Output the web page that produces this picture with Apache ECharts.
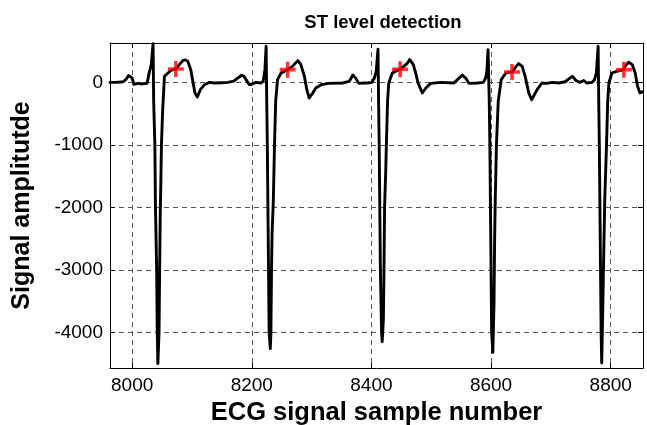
<!DOCTYPE html>
<html>
<head>
<meta charset="utf-8">
<title>ST level detection</title>
<script src="https://cdn.jsdelivr.net/npm/echarts@6/dist/echarts.min.js"></script>
<style>
  html, body { margin: 0; padding: 0; background: #fff; }
  #chart { width: 647px; height: 425px; }
</style>
</head>
<body>
<div id="chart"></div>
<script>
// ECG trace: sample numbers and amplitudes
const samples = [
  7963, 7972, 7982, 7986, 7990, 7994, 7997, 8000, 8003, 8006, 8010, 8015, 8020, 8025, 8029, 8032, 8035,
  8036, 8038, 8039, 8041, 8042, 8043, 8045, 8046, 8047, 8048, 8049, 8051, 8054, 8060, 8065, 8073, 8079,
  8085, 8089, 8093, 8098, 8101, 8105, 8109, 8114, 8121, 8129, 8138, 8150, 8160, 8170, 8175, 8179, 8183,
  8187, 8192, 8196, 8200, 8207, 8215, 8219, 8222, 8224,
  8225, 8226, 8227, 8228, 8229, 8231, 8232, 8233, 8234, 8236, 8238, 8240, 8243, 8249, 8254, 8260, 8268,
  8277, 8282, 8288, 8292, 8296, 8302, 8307, 8316, 8329, 8352, 8363, 8369, 8374, 8379, 8388, 8393, 8401,
  8405, 8408, 8411,
  8412, 8413, 8414, 8415, 8417, 8418, 8420, 8421, 8422, 8424, 8425, 8427, 8429, 8435, 8440, 8448, 8454,
  8460, 8464, 8470, 8474, 8478, 8485, 8491, 8499, 8516, 8538, 8546, 8552, 8558, 8563, 8577, 8587, 8591,
  8593, 8595,
  8597, 8598, 8599, 8600, 8601, 8603, 8605, 8606, 8607, 8609, 8612, 8617, 8624, 8629, 8635, 8642, 8646,
  8652, 8657, 8663, 8668, 8677, 8685, 8693, 8702, 8713, 8724, 8731, 8736, 8742, 8748, 8755, 8760, 8769,
  8773, 8776, 8779,
  8780, 8781, 8782, 8783, 8784, 8785, 8787, 8788, 8790, 8793, 8795, 8797, 8802, 8810, 8822, 8824, 8830,
  8836, 8841, 8845, 8849, 8853
];
const amplitude = [
  0, 0, 5, 15, 50, 110, 115, 70, -30, -35, -15, -25, -20, -15, 176, 284, 620,
  -300, -1000, -2000, -3000, -4000, -4500, -4000, -3000, -2100, -1600, -1000, -450, 96, 150, 192, 215, 284,
  353, 360, 337, 204, 43, -170, -234, -117, -37, 0, -10, -5, 0, 20, 60, 85, 115,
  96, 20, -35, -30, 0, -10, 16, 204, 577,
  -300, -1000, -2000, -3000, -4000, -4260, -4000, -3000, -2400, -1900, -1000, -300, 43, 150, 176, 204, 256,
  348, 284, 96, -117, -250, -170, -90, -37, -16, -10, 16, 118, 64, -16, -10, -10, 0,
  70, 176, 530,
  -300, -1000, -2000, -3000, -4000, -4150, -3800, -3000, -2000, -1400, -1000, -300, -10, 150, 176, 210, 256,
  305, 364, 284, 150, -10, -170, -90, -16, 0, -10, 64, 118, 64, -16, -10, 0, 70,
  176, 524,
  -300, -1000, -2000, -3000, -4000, -4320, -3500, -2500, -1880, -1000, -300, 43, 142, 160, 166, 256, 300,
  256, 96, -170, -277, -117, -10, -16, 0, -10, 10, 64, 96, 30, 0, 30, -10, 0,
  43, 150, 577,
  -300, -1000, -2000, -3000, -4000, -4490, -3500, -2950, -1900, -1000, -300, -10, 150, 176, 203, 256, 321,
  284, 150, -64, -170, -150
];

// Detected ST levels (one per beat)
const stSamples = [8073, 8260, 8448, 8635, 8822];
const stLevels = [215, 204, 210, 166, 203];

// Axis tick labels
const xTicks = [8000, 8200, 8400, 8600, 8800];
const yTicks = [-4000, -3000, -2000, -1000, 0];

const xRange = [7963, 8854];
const yRange = [-4570, 630];

const FONT = '"Liberation Sans", Arial, Helvetica, sans-serif';

const chart = echarts.init(document.getElementById('chart'), null, { renderer: 'canvas' });

const gridLine = { show: true, showMinLine: false, showMaxLine: false,
  lineStyle: { color: '#555', width: 1, type: [5, 4] } };

const frameAxis = {
  axisLine: { show: true, onZero: false, lineStyle: { color: '#000', width: 1 } },
  axisTick: { show: true, inside: true, length: 5, lineStyle: { color: '#000' } },
  axisLabel: { show: false },
  splitLine: { show: false }
};

chart.setOption({
  animation: false,
  backgroundColor: '#fff',
  title: {
    text: 'ST level detection',
    left: 378, top: 8, textAlign: 'center',
    textStyle: { fontFamily: FONT, fontSize: 18.5, fontWeight: 'bold', color: '#000' }
  },
  grid: { left: 110, right: 4, top: 43, bottom: 57, containLabel: false, outerBoundsMode: 'none' },
  xAxis: [{
    type: 'value', min: xRange[0], max: xRange[1], position: 'bottom',
    axisLine: { show: true, onZero: false, lineStyle: { color: '#000', width: 1 } },
    axisTick: { show: true, inside: true, length: 5, lineStyle: { color: '#000' } },
    axisLabel: {
      color: '#000', fontFamily: FONT, fontSize: 19, margin: 8,
      showMinLabel: false, showMaxLabel: false,
      formatter: v => (xTicks.indexOf(v) >= 0 ? String(v) : '')
    },
    splitLine: gridLine,
    name: 'ECG signal sample number', nameLocation: 'middle', nameGap: 26,
    nameTextStyle: { fontFamily: FONT, fontSize: 25.5, fontWeight: 'bold', color: '#000' }
  }, Object.assign({ type: 'value', min: xRange[0], max: xRange[1], position: 'top' }, frameAxis)],
  yAxis: [{
    type: 'value', min: yRange[0], max: yRange[1], position: 'left',
    axisLine: { show: true, onZero: false, lineStyle: { color: '#000', width: 1 } },
    axisTick: { show: true, inside: true, length: 5, lineStyle: { color: '#000' } },
    axisLabel: {
      color: '#000', fontFamily: FONT, fontSize: 19, margin: 7,
      showMinLabel: false, showMaxLabel: false,
      formatter: v => (yTicks.indexOf(v) >= 0 ? String(v) : '')
    },
    splitLine: gridLine,
    name: 'Signal amplitutde', nameLocation: 'middle', nameGap: 75,
    nameTextStyle: { fontFamily: FONT, fontSize: 25, fontWeight: 'bold', color: '#000' }
  }, Object.assign({ type: 'value', min: yRange[0], max: yRange[1], position: 'right' }, frameAxis)],
  series: [{
    type: 'line',
    data: samples.map((s, i) => [s, amplitude[i]]),
    showSymbol: false,
    symbol: 'none',
    lineStyle: { color: '#000', width: 2.9, join: 'round', cap: 'round' },
    z: 3
  }, {
    type: 'scatter',
    data: stSamples.map((s, i) => [s, stLevels[i]]),
    symbol: 'path://M6,0 H9.4 V6 H15.4 V9.4 H9.4 V15.4 H6 V9.4 H0 V6 H6 Z',
    symbolSize: 16,
    itemStyle: { color: '#ff0000' },
    z: 5
  }]
});
</script>
</body>
</html>
